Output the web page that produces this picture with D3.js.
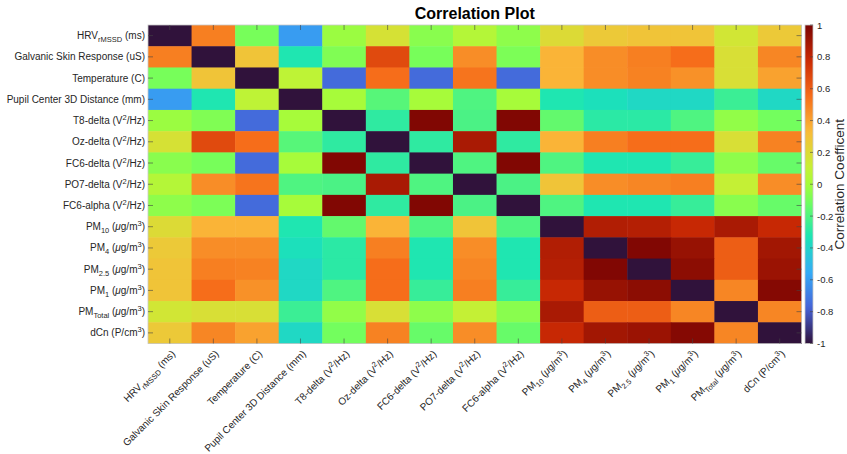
<!DOCTYPE html>
<html lang="en">
<head>
  <meta charset="UTF-8">
  <title>Correlation Plot</title>
  <script src="https://d3js.org/d3.v7.min.js"></script>
</head>

<style>
  body {
    margin: 0;
    background: #fff;
  }

  svg {
    font-family: "Liberation Sans", Arial, sans-serif;
  }

  .tick-mark {
    stroke: #444;
    stroke-opacity: 0.6;
    stroke-width: 1px;
  }
</style>

<body>
<div class="chart"></div>

<script>
  /** variable names, each one a list of [text, kind] pieces (kind: sub / sup / it) */
  var variables = [
    [['HRV'], ['rMSSD', 'sub'], [' (ms)']],
    [['Galvanic Skin Response (uS)']],
    [['Temperature (C)']],
    [['Pupil Center 3D Distance (mm)']],
    [['T8-delta (V'], ['2', 'sup'], ['/Hz)']],
    [['Oz-delta (V'], ['2', 'sup'], ['/Hz)']],
    [['FC6-delta (V'], ['2', 'sup'], ['/Hz)']],
    [['PO7-delta (V'], ['2', 'sup'], ['/Hz)']],
    [['FC6-alpha (V'], ['2', 'sup'], ['/Hz)']],
    [['PM'], ['10', 'sub'], [' ('], ['\u03bc', 'it'], ['g/m'], ['3', 'sup'], [')']],
    [['PM'], ['4', 'sub'], [' ('], ['\u03bc', 'it'], ['g/m'], ['3', 'sup'], [')']],
    [['PM'], ['2.5', 'sub'], [' ('], ['\u03bc', 'it'], ['g/m'], ['3', 'sup'], [')']],
    [['PM'], ['1', 'sub'], [' ('], ['\u03bc', 'it'], ['g/m'], ['3', 'sup'], [')']],
    [['PM'], ['Total', 'sub'], [' ('], ['\u03bc', 'it'], ['g/m'], ['3', 'sup'], [')']],
    [['dCn (P/cm'], ['3', 'sup'], [')']]
  ];

  /** correlation values (diagonal is drawn at -1) */
  var rowHRV   = [-1, 0.50, -0.10, -0.60, -0.02, 0.17, -0.06, 0.05, -0.05, 0.20, 0.27, 0.29, 0.29, 0.15, 0.27];
  var rowGSR   = [0.50, -1, 0.29, -0.32, -0.08, 0.67, -0.10, 0.46, -0.09, 0.35, 0.46, 0.50, 0.55, 0.18, 0.48];
  var rowTemp  = [-0.10, 0.29, -1, 0.08, -0.75, 0.55, -0.75, 0.53, -0.75, 0.35, 0.46, 0.49, 0.45, 0.18, 0.40];
  var rowPupil = [-0.60, -0.32, 0.08, -1, 0.01, -0.18, 0.01, -0.20, 0.01, -0.32, -0.35, -0.38, -0.38, -0.25, -0.38];
  var rowT8d   = [-0.02, -0.08, -0.75, 0.01, -1, -0.28, 0.98, -0.21, 0.98, -0.15, -0.29, -0.29, -0.20, -0.04, -0.11];
  var rowOzd   = [0.17, 0.67, 0.55, -0.18, -0.28, -1, -0.28, 0.87, -0.28, 0.35, 0.50, 0.55, 0.55, 0.18, 0.49];
  var rowFC6d  = [-0.06, -0.10, -0.75, 0.01, 0.98, -0.28, -1, -0.20, 0.98, -0.20, -0.32, -0.32, -0.26, -0.05, -0.14];
  var rowPO7d  = [0.05, 0.46, 0.53, -0.20, -0.21, 0.87, -0.20, -1, -0.21, 0.29, 0.46, 0.48, 0.50, 0.10, 0.46];
  var rowFC6a  = [-0.05, -0.09, -0.75, 0.01, 0.98, -0.28, 0.98, -0.21, -1, -0.20, -0.32, -0.32, -0.26, -0.06, -0.14];
  var rowPM10  = [0.20, 0.35, 0.35, -0.32, -0.15, 0.35, -0.20, 0.29, -0.20, -1, 0.85, 0.84, 0.79, 0.87, 0.79];
  var rowPM4   = [0.27, 0.46, 0.46, -0.35, -0.29, 0.50, -0.32, 0.46, -0.32, 0.85, -1, 0.98, 0.92, 0.60, 0.89];
  var rowPM25  = [0.29, 0.50, 0.49, -0.38, -0.29, 0.55, -0.32, 0.48, -0.32, 0.84, 0.98, -1, 0.95, 0.60, 0.91];
  var rowPM1   = [0.29, 0.55, 0.45, -0.38, -0.20, 0.55, -0.26, 0.50, -0.26, 0.79, 0.92, 0.95, -1, 0.48, 0.97];
  var rowPMTot = [0.15, 0.18, 0.18, -0.25, -0.04, 0.18, -0.05, 0.10, -0.06, 0.87, 0.60, 0.60, 0.48, -1, 0.48];
  var rowDCn   = [0.27, 0.48, 0.40, -0.38, -0.11, 0.49, -0.14, 0.46, -0.14, 0.79, 0.89, 0.91, 0.97, 0.48, -1];

  var matrix = [rowHRV, rowGSR, rowTemp, rowPupil, rowT8d, rowOzd, rowFC6d, rowPO7d, rowFC6a,
                rowPM10, rowPM4, rowPM25, rowPM1, rowPMTot, rowDCn];

  var colorbarTicks = [-1, -0.8, -0.6, -0.4, -0.2, 0, 0.2, 0.4, 0.6, 0.8, 1];

  /** turbo colour map stops (MATLAB style) */
  var turbo = ['#30123b', '#4662d7', '#35abf8', '#1ae4b6', '#72fe5e', '#a4fc3b',
               '#c8ef34', '#faba39', '#f66b19', '#cb2a04', '#7a0403'];
  var turboPos = [0, 1/9, 2/9, 3/9, 4/9, 0.5, 5/9, 6/9, 7/9, 8/9, 1];

  var width = 847, height = 454;
  /** plot box (note: 'top' is taken by window.top, so use prefixed names) */
  var pLeft = 148, pRight = 801.5, pTop = 25, pBottom = 343.5;
  var labelSize = 10;

  var svg = d3.select('.chart').append('svg')
    .attr('width', width)
    .attr('height', height);

  var x = d3.scaleBand().domain(d3.range(variables.length)).range([pLeft, pRight]);
  var y = d3.scaleBand().domain(d3.range(variables.length)).range([pTop, pBottom]);

  var color = d3.scaleLinear()
    .domain(turboPos.map(function (p) { return -1 + 2 * p; }))
    .range(turbo)
    .interpolate(d3.interpolateRgb)
    .clamp(true);

  /** cells */
  var cells = [];
  matrix.forEach(function (row, i) {
    row.forEach(function (v, j) { cells.push({ row: i, col: j, value: v }); });
  });

  svg.append('g')
    .selectAll('rect')
    .data(cells)
    .enter()
    .append('rect')
    .attr('x', function (d) { return x(d.col); })
    .attr('y', function (d) { return y(d.row); })
    .attr('width', x.bandwidth() + 0.5)
    .attr('height', y.bandwidth() + 0.5)
    .attr('fill', function (d) { return color(d.value); });

  /** axes box */
  svg.append('rect')
    .attr('x', pLeft).attr('y', pTop)
    .attr('width', pRight - pLeft).attr('height', pBottom - pTop)
    .attr('fill', 'none')
    .attr('stroke', '#c8c8c8')
    .attr('stroke-width', 0.8);

  /** tick marks inside the box on all four sides */
  var ticks = svg.append('g');
  d3.range(variables.length).forEach(function (i) {
    var cx = x(i) + x.bandwidth() / 2, cy = y(i) + y.bandwidth() / 2;
    ticks.append('line').attr('class', 'tick-mark').attr('x1', cx).attr('x2', cx).attr('y1', pTop).attr('y2', pTop + 5);
    ticks.append('line').attr('class', 'tick-mark').attr('x1', cx).attr('x2', cx).attr('y1', pBottom).attr('y2', pBottom - 5);
    ticks.append('line').attr('class', 'tick-mark').attr('y1', cy).attr('y2', cy).attr('x1', pLeft).attr('x2', pLeft + 5);
    ticks.append('line').attr('class', 'tick-mark').attr('y1', cy).attr('y2', cy).attr('x1', pRight).attr('x2', pRight - 5);
  });

  /** write a label made of pieces with sub/superscripts */
  function writeLabel(textSel, pieces) {
    var offset = 0;
    pieces.forEach(function (p) {
      var kind = p[1];
      var target = kind === 'sub' ? 3 : (kind === 'sup' ? -4 : 0);
      var ts = textSel.append('tspan').text(p[0]).attr('dy', target - offset);
      if (kind === 'sub' || kind === 'sup') ts.attr('font-size', '0.75em');
      if (kind === 'it') ts.attr('font-style', 'italic');
      offset = target;
    });
  }

  /** y labels */
  svg.append('g')
    .selectAll('text')
    .data(variables)
    .enter()
    .append('text')
    .attr('x', pLeft - 3)
    .attr('y', function (d, i) { return y(i) + y.bandwidth() / 2 + 3.5; })
    .attr('text-anchor', 'end')
    .attr('font-size', labelSize)
    .attr('fill', '#262626')
    .each(function (d) { writeLabel(d3.select(this), d); });

  /** x labels rotated */
  svg.append('g')
    .selectAll('text')
    .data(variables)
    .enter()
    .append('text')
    .attr('transform', function (d, i) {
      return 'translate(' + (x(i) + x.bandwidth() / 2 + 6) + ',' + (pBottom + 11) + ') rotate(-45)';
    })
    .attr('text-anchor', 'end')
    .attr('font-size', labelSize)
    .attr('fill', '#262626')
    .each(function (d) { writeLabel(d3.select(this), d); });

  /** title */
  svg.append('text')
    .attr('x', (pLeft + pRight) / 2)
    .attr('y', 19)
    .attr('text-anchor', 'middle')
    .attr('font-size', 16)
    .attr('font-weight', 'bold')
    .attr('fill', '#000')
    .text('Correlation Plot');

  /** colorbar */
  var cbX = 805, cbW = 8;
  var cbScale = d3.scaleLinear().domain([-1, 1]).range([pBottom, pTop]);

  var grad = svg.append('defs').append('linearGradient')
    .attr('id', 'cbgrad')
    .attr('x1', 0).attr('x2', 0).attr('y1', 1).attr('y2', 0);
  grad.selectAll('stop')
    .data(d3.range(0, 1.0001, 0.02))
    .enter()
    .append('stop')
    .attr('offset', function (t) { return t; })
    .attr('stop-color', function (t) { return color(-1 + 2 * t); });

  svg.append('rect')
    .attr('x', cbX).attr('y', pTop)
    .attr('width', cbW).attr('height', pBottom - pTop)
    .attr('fill', 'url(#cbgrad)')
    .attr('stroke', '#c8c8c8')
    .attr('stroke-width', 0.8);

  var cbAxis = svg.append('g')
    .attr('transform', 'translate(' + (cbX + cbW) + ',0)')
    .call(d3.axisRight(cbScale)
      .tickValues(colorbarTicks)
      .tickSize(0)
      .tickPadding(4)
      .tickFormat(function (d) { return String(+d.toFixed(1)); }));
  cbAxis.select('.domain').remove();
  cbAxis.selectAll('text')
    .attr('font-size', 9.5)
    .attr('font-family', '"Liberation Sans", Arial, sans-serif')
    .attr('fill', '#262626');

  colorbarTicks.forEach(function (t) {
    svg.append('line').attr('class', 'tick-mark')
      .attr('x1', cbX + cbW).attr('x2', cbX + cbW - 3)
      .attr('y1', cbScale(t)).attr('y2', cbScale(t));
  });

  svg.append('text')
    .attr('transform', 'translate(844,' + ((pTop + pBottom) / 2) + ') rotate(-90)')
    .attr('text-anchor', 'middle')
    .attr('font-size', 13.5)
    .attr('fill', '#262626')
    .text('Correlation Coefficent');
</script>
</body>
</html>
